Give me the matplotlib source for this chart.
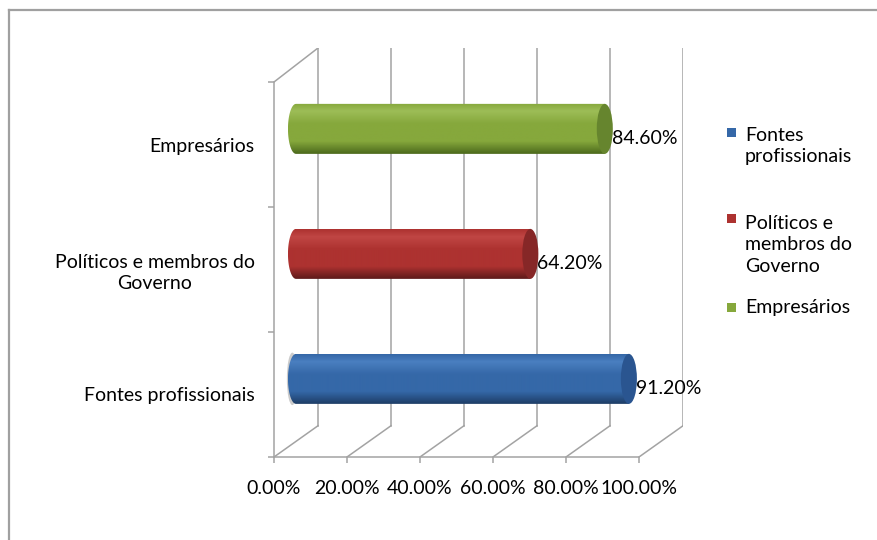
import numpy as np
import matplotlib.pyplot as plt
from matplotlib.path import Path
from matplotlib.patches import PathPatch, Ellipse, Rectangle
from matplotlib.lines import Line2D
from matplotlib.colors import LinearSegmentedColormap

plt.rcParams['font.family'] = ['Lato', 'DejaVu Sans']

categories = ['Fontes profissionais', 'Políticos e membros do\nGoverno', 'Empresários']
legend_labels = ['Fontes\nprofissionais', 'Políticos e\nmembros do\nGoverno', 'Empresários']
values = [91.2, 64.2, 84.6]
xticks = [0, 20, 40, 60, 80, 100]

# colours: dark bottom, mid, light top, and the end cap
shades = [
    ('#1d3d66', '#3568a8', '#4a7fc0', '#2a5590'),
    ('#5e1a1a', '#ad3230', '#c04644', '#862727'),
    ('#4c6a1c', '#86a83c', '#9dbd57', '#66852e'),
]

fs = 14
grid_col = '#a3a3a3'
dx, dy = 12.05, 0.25     # depth offset of the back wall (data units)
bar_h = 0.4
cap_w = 4.4

fig = plt.figure(figsize=(8.77, 5.4), dpi=100)
W, H = 877, 540
ax = fig.add_axes([274 / W, (H - 457) / H, 409 / W, 409 / H])
ax.set_xlim(0, 100 + dx)
ax.set_ylim(0, 3 + 0.272)

# back wall gridlines + floor diagonals
for t in xticks:
    ax.plot([t + dx, t + dx], [dy, 3 + 0.272], color=grid_col, lw=1.1, zorder=1)
    ax.plot([t, t + dx], [0, dy], color=grid_col, lw=1.1, zorder=1)
ax.plot([0, dx], [3, 3 + 0.272], color=grid_col, lw=1.1, zorder=1)

# axes spines
for s in ['top', 'right']:
    ax.spines[s].set_visible(False)
ax.spines['left'].set_bounds(0, 3)
ax.spines['bottom'].set_bounds(0, 100)
for s in ['left', 'bottom']:
    ax.spines[s].set_color(grid_col)
    ax.spines[s].set_linewidth(1.1)

ax.set_xticks(xticks)
ax.set_xticklabels(['%.2f%%' % t for t in xticks])
ax.set_yticks([0, 1, 2, 3])
ax.set_yticklabels([])
ax.set_yticks([0.5, 1.5, 2.5], minor=True)
ax.set_yticklabels(categories, minor=True)
for lbl in ax.get_yticklabels(minor=True):
    lbl.set_multialignment('center')
    lbl.set_linespacing(1.3)
ax.tick_params(axis='both', which='major', length=4.3, color=grid_col, width=1.1,
               labelsize=fs, labelcolor='black')
ax.tick_params(axis='x', pad=12)
ax.tick_params(axis='y', which='minor', length=0, pad=14, labelsize=fs)
ax.patch.set_alpha(0)


def cylinder(x0, length, yc, cols, z):
    dark, mid, light, capc = cols
    a = cap_w / 2
    b = bar_h / 2
    th = np.linspace(np.pi / 2, 3 * np.pi / 2, 40)
    left = np.column_stack([x0 + a * np.cos(th), yc + b * np.sin(th)])
    right = np.array([[x0 + length, yc - b], [x0 + length, yc + b]])
    verts = np.vstack([left, right, left[:1]])
    path = Path(verts)
    clip = PathPatch(path, transform=ax.transData, facecolor='none', edgecolor='none')
    ax.add_patch(clip)
    cmap = LinearSegmentedColormap.from_list(
        'c', [(0, dark), (0.25, mid), (0.6, mid), (0.85, light), (1.0, mid)])
    grad = np.linspace(0, 1, 100).reshape(-1, 1)
    im = ax.imshow(grad, cmap=cmap, aspect='auto', origin='lower',
                   extent=(x0 - a, x0 + length, yc - b, yc + b), zorder=z)
    im.set_clip_path(clip)
    ax.add_patch(Ellipse((x0 + length, yc), cap_w, bar_h, facecolor=capc,
                         edgecolor='none', zorder=z + 0.1))


# soft shadow next to the first bar
ax.add_patch(Ellipse((dx / 2 - 1.0, 0.5 + dy / 2), 3.0, bar_h * 1.05,
                     facecolor='#999999', edgecolor='none', alpha=0.5, zorder=2))

for i, v in enumerate(values):
    yc = i + 0.5 + dy / 2
    cylinder(dx / 2, v, yc, shades[i], 3 + i)
    ax.annotate('%.2f%%' % v, (dx / 2 + v, yc), xytext=(5, -7),
                textcoords='offset points', ha='left', va='center',
                fontsize=fs, zorder=10)

ax.set_xlim(0, 100 + dx)
ax.set_ylim(0, 3 + 0.272)

# legend, placed by hand like the Excel one
leg_y = [146, 245, 308]
for i, lab in enumerate(legend_labels):
    nl = lab.count('\n') + 1
    top = leg_y[i] - (nl - 1) * 13
    fig.patches.append(Rectangle((727 / W, 1 - (top + 4) / H), 9 / W, 9 / H,
                                 transform=fig.transFigure, facecolor=shades[i][1],
                                 edgecolor='none'))
    fig.text(745 / W, 1 - leg_y[i] / H, lab, ha='left', va='center',
             fontsize=fs, linespacing=1.3)

# chart frame
fig.add_artist(Line2D([9 / W, 9 / W], [0, 1 - 10 / H], color='#a0a0a0', lw=1.6,
                      transform=fig.transFigure))
fig.add_artist(Line2D([9 / W, 1], [1 - 10 / H, 1 - 10 / H], color='#a0a0a0', lw=1.6,
                      transform=fig.transFigure))

fig.savefig('out.png', dpi=100)
